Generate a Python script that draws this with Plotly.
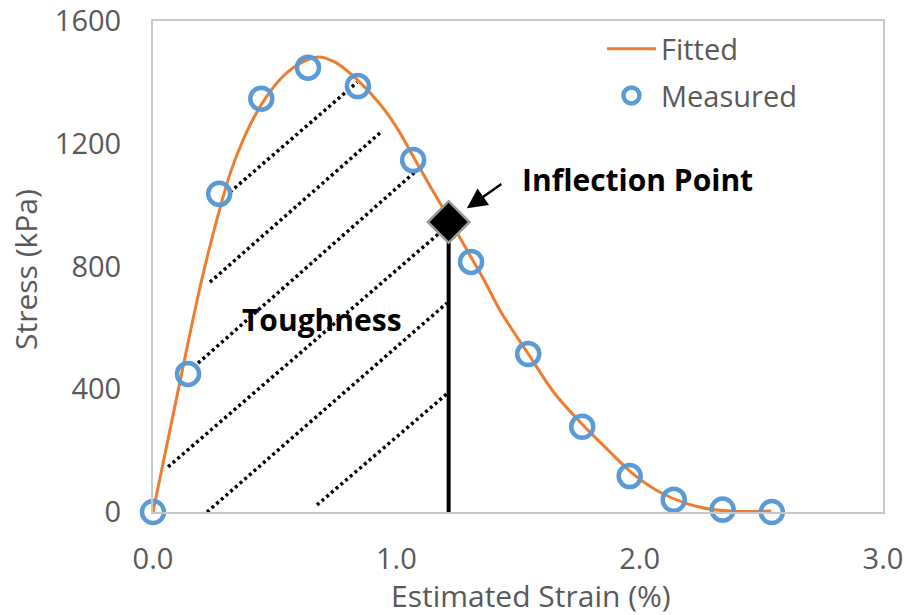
import plotly.graph_objects as go

# Measured data
meas_x = [0.0, 0.144, 0.272, 0.445, 0.637, 0.842, 1.069, 1.307, 1.542, 1.764, 1.959, 2.140, 2.341, 2.543]
meas_y = [0, 450, 1037, 1347, 1448, 1388, 1147, 815, 515, 278, 117, 40, 8, 0]

# Fitted curve
fit_x = [0.0, 0.12, 0.20, 0.27, 0.32, 0.37, 0.44, 0.52, 0.60, 0.68, 0.75, 0.84, 0.93, 1.00,
         1.07, 1.14, 1.22, 1.30, 1.36, 1.43, 1.54, 1.65, 1.76, 1.87, 1.97, 2.08, 2.19, 2.30, 2.41, 2.54]
fit_y = [0, 460, 756, 975, 1110, 1212, 1321, 1408, 1460, 1483, 1465, 1408, 1332, 1255,
         1158, 1060, 952, 840, 757, 652, 518, 387, 289, 202, 126, 66, 28, 8, 2, 3]

# Inflection point
infl_x = [1.215]
infl_y = [945]

# Toughness hatch lines (start/end)
hatch_x0 = [0.316, 0.234, 0.185, 0.062, 0.222, 0.674]
hatch_y0 = [1042, 749, 485, 147, 0, 23]
hatch_x1 = [0.839, 0.941, 1.085, 1.192, 1.208, 1.212]
hatch_y1 = [1400, 1241, 1114, 919, 681, 388]

x_ticks = [0.0, 1.0, 2.0, 3.0]
y_ticks = [0, 400, 800, 1200, 1600]

FONT = "Open Sans"
GRAY = "#595959"
FS = 29

fig = go.Figure()

for i in range(len(hatch_x0)):
    fig.add_trace(go.Scatter(
        x=[hatch_x0[i], hatch_x1[i]], y=[hatch_y0[i], hatch_y1[i]],
        mode="lines", line=dict(color="black", width=3.5, dash="3px,3.2px"),
        showlegend=False, hoverinfo="skip"))

fig.add_trace(go.Scatter(
    x=[infl_x[0], infl_x[0]], y=[0, infl_y[0]], mode="lines",
    line=dict(color="black", width=4), showlegend=False, hoverinfo="skip"))

fig.add_trace(go.Scatter(
    x=fit_x, y=fit_y, mode="lines", name="Fitted",
    line=dict(color="#ED7D31", width=3, shape="spline", smoothing=1.0),
    legendgroup="a", cliponaxis=False))

fig.add_trace(go.Scatter(
    x=meas_x, y=meas_y, mode="markers", name="Measured",
    marker=dict(symbol="circle-open", size=22, color="#5B9BD5",
                line=dict(width=4.5, color="#5B9BD5")),
    legendgroup="b", cliponaxis=False))

fig.add_trace(go.Scatter(
    x=infl_x, y=infl_y, mode="markers",
    marker=dict(symbol="diamond", size=32, color="black",
                line=dict(width=2.5, color="#9a9a9a")),
    showlegend=False, cliponaxis=False))

fig.add_annotation(x=1.29, y=990, ax=1.438, ay=1072, xref="x", yref="y",
                   axref="x", ayref="y", text="", showarrow=True,
                   arrowhead=2, arrowsize=1.6, arrowwidth=2.5, arrowcolor="black")
fig.add_annotation(x=1.508, y=1082, xref="x", yref="y", text="<b>Inflection Point</b>",
                   showarrow=False, xanchor="left", yanchor="middle",
                   font=dict(family=FONT, size=30, color="black"))
fig.add_annotation(x=0.695, y=626, xref="x", yref="y", text="<b>Toughness</b>",
                   showarrow=False, xanchor="center", yanchor="middle",
                   font=dict(family=FONT, size=30, color="black"))

# axis titles
fig.add_annotation(x=0.518, y=-0.171, xref="paper", yref="paper",
                   text="Estimated Strain (%)", showarrow=False,
                   xanchor="center", yanchor="middle",
                   font=dict(family=FONT, size=30, color=GRAY))
fig.add_annotation(x=-0.174, y=0.495, xref="paper", yref="paper",
                   text="Stress (kPa)", showarrow=False, textangle=-90,
                   xanchor="center", yanchor="middle",
                   font=dict(family=FONT, size=30, color=GRAY))

fig.update_layout(
    width=908, height=615,
    margin=dict(l=153, r=25, t=21, b=103, autoexpand=False),
    paper_bgcolor="white", plot_bgcolor="white",
    font=dict(family=FONT, size=FS, color=GRAY),
    legend=dict(x=0.615, y=0.995, xanchor="left", yanchor="top",
                bgcolor="rgba(0,0,0,0)", itemwidth=49, tracegroupgap=6,
                font=dict(family=FONT, size=FS, color=GRAY)),
    xaxis=dict(range=[0, 3], tickvals=x_ticks, tickformat=".1f",
               showgrid=False, zeroline=False, showline=True, mirror=True,
               linecolor="#c8c8c8", linewidth=2, ticks="", automargin=False,
               ticklabelstandoff=20, tickfont=dict(size=FS, color=GRAY)),
    yaxis=dict(range=[0, 1600], tickvals=y_ticks,
               showgrid=False, zeroline=False, showline=True, mirror=True,
               linecolor="#c8c8c8", linewidth=2, ticks="", automargin=False,
               ticklabelstandoff=24, tickfont=dict(size=FS, color=GRAY)),
)

fig.write_html("out.html")
